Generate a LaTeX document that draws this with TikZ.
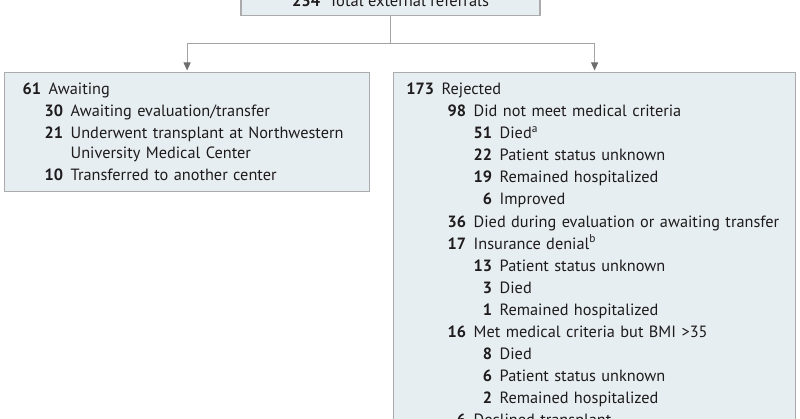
\documentclass[tikz,border=0pt]{standalone}
\usepackage{fontspec}
\setmainfont{PT Sans}
\usetikzlibrary{arrows.meta}

\definecolor{boxfill}{HTML}{E7EEF2}
\definecolor{boxline}{HTML}{ABABAB}
\definecolor{linkline}{HTML}{A3A3A3}
\definecolor{tipgray}{HTML}{6E6E6E}
\definecolor{textdark}{HTML}{1E1B1C}

% one line of a box: indent (pt), count, label
\newcommand{\ent}[3]{\hspace*{#1pt}\makebox[0pt][r]{\bfseries #2}\hspace{7.5pt}#3}

\begin{document}
\begin{tikzpicture}[x=1pt, y=-1pt,
    box/.style={
      rectangle,
      draw=boxline,
      line width=1.2pt,
      fill=boxfill,
      inner sep=0pt,
    },
    lines/.style={
      anchor=base west,
      inner sep=0pt,
      text width=400pt,
      align=left,
      text=textdark,
      font=\fontsize{16.3}{22.1}\selectfont,
    },
    link/.style={draw=linkline, line width=1pt},
    tip/.style={-{Triangle[width=7pt,length=8pt,fill=tipgray,color=tipgray]}, shorten >=1.5pt},
  ]

  \useasboundingbox (0,0) rectangle (800,419);
  \clip (0,0) rectangle (800,419);

  \node[box, minimum width=299pt, minimum height=29.5pt, anchor=south,
    text=textdark, font=\fontsize{16.5}{22}\selectfont] (total) at (390.5,16)
    {\textbf{234}\hspace{9pt}Total external referrals};

  \node[box, minimum width=365pt, minimum height=119pt, anchor=north west] (awaiting) at (4,72) {};
  \node[box, minimum width=402pt, minimum height=380pt, anchor=north west] (rejected) at (393,72) {};

  \node[lines] (awaitingtxt) at (4,94.5) {%
    \ent{37}{61}{Awaiting}\\
    \ent{59}{30}{Awaiting evaluation/transfer}\\
    \ent{59}{21}{Underwent transplant at Northwestern}\\[-2pt]
    \hspace*{66.5pt}University Medical Center\\
    \ent{59}{10}{Transferred to another center}};

  \node[lines] (rejectedtxt) at (393,94.5) {%
    \ent{41}{173}{Rejected}\\
    \ent{73}{98}{Did not meet medical criteria}\\
    \ent{99}{51}{Died\textsuperscript{a}}\\
    \ent{99}{22}{Patient status unknown}\\
    \ent{99}{19}{Remained hospitalized}\\
    \ent{99}{6}{Improved}\\
    \ent{73}{36}{Died during evaluation or awaiting transfer}\\
    \ent{73}{17}{Insurance denial\textsuperscript{b}}\\
    \ent{99}{13}{Patient status unknown}\\
    \ent{99}{3}{Died}\\
    \ent{99}{1}{Remained hospitalized}\\
    \ent{73}{16}{Met medical criteria but BMI >35}\\
    \ent{99}{8}{Died}\\
    \ent{99}{6}{Patient status unknown}\\
    \ent{99}{2}{Remained hospitalized}\\
    \ent{73}{6}{Declined transplant}};

  \coordinate (split) at (total.south |- 0,44);
  \draw[link] (total.south) -- (split);
  \draw[link, tip] (split) -| (awaiting.north);
  \draw[link, tip] (split) -| (rejected.north);

\end{tikzpicture}
\end{document}
